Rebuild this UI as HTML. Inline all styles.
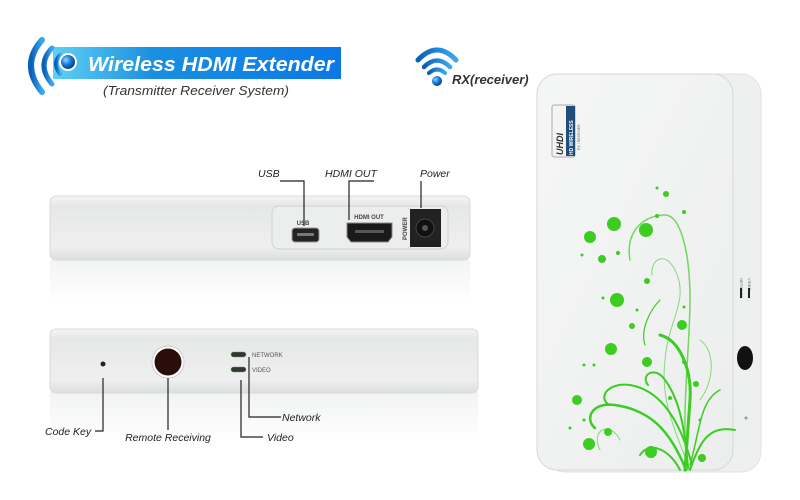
<!DOCTYPE html>
<html><head><meta charset="utf-8"><style>
html,body{margin:0;padding:0;background:#fff}
svg{display:block}
text{font-family:"Liberation Sans",sans-serif}
</style></head><body>
<svg width="800" height="500" viewBox="0 0 800 500" xmlns="http://www.w3.org/2000/svg">
<defs>
<linearGradient id="ban" x1="0" x2="1"><stop offset="0" stop-color="#5fd0f5"/><stop offset="0.35" stop-color="#1a8fe0"/><stop offset="1" stop-color="#0a78e8"/></linearGradient>
<linearGradient id="arc" x1="0" x2="1"><stop offset="0" stop-color="#0a5fb8"/><stop offset="1" stop-color="#3aa8f0"/></linearGradient>
<radialGradient id="ball" cx="0.35" cy="0.35" r="0.7"><stop offset="0" stop-color="#8fd8ff"/><stop offset="0.5" stop-color="#1a7ad8"/><stop offset="1" stop-color="#063e8a"/></radialGradient>
<linearGradient id="bodyg" x1="0" y1="0" x2="0" y2="1"><stop offset="0" stop-color="#f4f5f4"/><stop offset="0.15" stop-color="#e6e8e7"/><stop offset="0.8" stop-color="#eeefee"/><stop offset="1" stop-color="#dcdedd"/></linearGradient>
<linearGradient id="refl" x1="0" y1="0" x2="0" y2="1"><stop offset="0" stop-color="#e8eaea"/><stop offset="1" stop-color="#fff"/></linearGradient>
<linearGradient id="face" x1="0" y1="0" x2="1" y2="1"><stop offset="0" stop-color="#f5f6f6"/><stop offset="1" stop-color="#eceeed"/></linearGradient>
</defs>

<!-- header -->
<rect x="53" y="47" width="288" height="32" fill="url(#ban)"/>
<g fill="none" stroke="url(#arc)" stroke-linecap="round">
<path d="M42 40 Q20 65 42 92" stroke-width="6"/>
<path d="M52 48 Q36 65 52 84" stroke-width="5"/>
<path d="M60 55 Q52 63 60 74" stroke-width="4"/>
</g>
<circle cx="68" cy="62" r="9" fill="#fff"/>
<circle cx="68" cy="62" r="7" fill="url(#ball)"/>
<text x="88" y="71" font-size="20" font-weight="bold" font-style="italic" fill="#fff" textLength="246" lengthAdjust="spacingAndGlyphs">Wireless HDMI Extender</text>
<text x="103" y="95" font-size="13" font-style="italic" fill="#333" textLength="186" lengthAdjust="spacingAndGlyphs">(Transmitter Receiver System)</text>

<g fill="none" stroke="url(#arc)" stroke-linecap="round">
<path d="M418 60 Q437 40 456 60" stroke-width="5"/>
<path d="M424 67 Q437 54 450 67" stroke-width="4.5"/>
<path d="M429 73 Q437 66 445 73" stroke-width="4"/>
</g>
<circle cx="437" cy="81" r="5" fill="url(#ball)"/>
<text x="452" y="84" font-size="13" font-weight="bold" font-style="italic" fill="#333">RX(receiver)</text>

<!-- top device -->
<rect x="50" y="260" width="420" height="40" fill="url(#refl)" opacity="0.6"/>
<rect x="50" y="196" width="420" height="64" rx="6" fill="url(#bodyg)" stroke="#d8dad9"/>
<rect x="272" y="206" width="176" height="43" rx="7" fill="#eceeed" stroke="#d0d2d1"/>
<text x="303" y="225" font-size="6" font-weight="bold" fill="#444" text-anchor="middle">USB</text>
<rect x="292" y="228" width="27" height="14" rx="3" fill="#222" stroke="#999"/>
<rect x="297" y="233" width="17" height="3" fill="#777"/>
<text x="369" y="219" font-size="6" font-weight="bold" fill="#444" text-anchor="middle">HDMI OUT</text>
<path d="M347 223 H392 V237 L388 242 H351 L347 237 Z" fill="#1a1a1a" stroke="#888"/>
<rect x="355" y="230" width="29" height="3" fill="#555"/>
<text x="407" y="240" font-size="6" font-weight="bold" fill="#444" transform="rotate(-90 407 240)">POWER</text>
<rect x="410" y="209" width="31" height="38" fill="#222"/>
<circle cx="425" cy="228" r="9" fill="#111" stroke="#444"/>
<circle cx="425" cy="228" r="3" fill="#555"/>

<g stroke="#222" stroke-width="1.2" fill="none">
<path d="M280 181 H304 V226"/>
<path d="M374 181 H349 V220"/>
<path d="M421 181 V208"/>
</g>
<text x="258" y="177" font-size="10.5" font-style="italic" fill="#222">USB</text>
<text x="325" y="177" font-size="10.5" font-style="italic" fill="#222">HDMI OUT</text>
<text x="420" y="177" font-size="10.5" font-style="italic" fill="#222">Power</text>

<!-- bottom device -->
<rect x="50" y="392" width="428" height="50" fill="url(#refl)" opacity="0.6"/>
<rect x="50" y="329" width="428" height="64" rx="6" fill="url(#bodyg)" stroke="#d8dad9"/>
<circle cx="103" cy="364" r="2.5" fill="#222"/>
<circle cx="168" cy="362" r="16" fill="#fff" stroke="#ccc"/>
<circle cx="168" cy="362" r="13.5" fill="#2a0e0a"/>
<rect x="231" y="352" width="15" height="5" rx="2.5" fill="#2c3a2a" stroke="#888" stroke-width="0.5"/>
<rect x="231" y="367" width="15" height="5" rx="2.5" fill="#2c3a2a" stroke="#888" stroke-width="0.5"/>
<text x="252" y="357" font-size="6" fill="#555">NETWORK</text>
<text x="252" y="372" font-size="6" fill="#555">VIDEO</text>
<g stroke="#222" stroke-width="1.2" fill="none">
<path d="M103 378 V431 H95"/>
<path d="M168 378 V430"/>
<path d="M249 357 V417 H281"/>
<path d="M241 380 V437 H263"/>
</g>
<text x="45" y="435" font-size="10.5" font-style="italic" fill="#222">Code Key</text>
<text x="168" y="441" font-size="10.5" font-style="italic" fill="#222" text-anchor="middle">Remote Receiving</text>
<text x="282" y="421" font-size="10.5" font-style="italic" fill="#222">Network</text>
<text x="267" y="441" font-size="10.5" font-style="italic" fill="#222">Video</text>

<!-- right device -->
<rect x="545" y="74" width="216" height="398" rx="20" fill="#eef0ef" stroke="#e0e2e1"/>
<rect x="537" y="74" width="196" height="396" rx="20" fill="url(#face)" stroke="#d6d8d7"/>
<rect x="552" y="105" width="23" height="52" rx="2" fill="#f4f4f4" stroke="#aaa"/>
<rect x="566" y="106" width="9" height="50" fill="#1f4e7a"/>
<text x="563" y="155" font-size="9" font-weight="bold" font-style="italic" fill="#333" transform="rotate(-90 563 155)">UHDI</text>
<text x="573" y="155" font-size="5" font-weight="bold" fill="#fff" transform="rotate(-90 573 155)">HD WIRELESS</text>
<text x="580" y="150" font-size="3.5" fill="#666" transform="rotate(-90 580 150)">RX / RECEIVER</text>
<text x="740" y="278" font-size="4" fill="#666" transform="rotate(90 740 278)">NETWORK</text>
<text x="748" y="278" font-size="4" fill="#666" transform="rotate(90 748 278)">VIDEO</text>
<rect x="740" y="288" width="2" height="10" fill="#222"/>
<rect x="748" y="288" width="2" height="10" fill="#222"/>
<ellipse cx="745" cy="358" rx="8" ry="12" fill="#111"/>
<circle cx="746" cy="418" r="1.5" fill="#999"/>

<g fill="none" stroke="#3ccc22" stroke-linecap="round">
<path d="M688 470 C680 420 690 350 690 300 C690 250 680 215 665 215 C645 215 625 230 630 260" stroke-width="1.5" opacity="0.7"/>
<path d="M690 470 C675 430 660 400 665 360 C668 320 690 300 675 270 C665 250 650 260 652 275" stroke-width="1" opacity="0.6"/>
<path d="M686 470 C670 430 650 410 615 405 C590 402 585 420 595 428" stroke-width="2.5"/>
<path d="M692 465 C680 420 660 390 630 385 C605 382 598 400 610 405" stroke-width="2"/>
<path d="M688 468 C685 430 680 400 665 380 C655 365 640 375 648 385" stroke-width="2"/>
<path d="M690 470 C700 440 710 425 735 430" stroke-width="2"/>
<path d="M690 465 C700 430 700 400 720 390" stroke-width="1.5"/>
<path d="M680 470 C670 450 650 440 640 455" stroke-width="2"/>
<path d="M685 470 L690 400 C692 370 680 340 660 335" stroke-width="3"/>
<path d="M660 300 C650 310 640 330 645 345" stroke-width="1.2"/>
<path d="M700 400 C715 380 715 350 700 340" stroke-width="1" opacity="0.6"/>
<path d="M620 440 C610 420 590 430 600 450" stroke-width="1" opacity="0.6"/>
</g>
<g fill="#3ccc22">
<circle cx="614" cy="224" r="7"/><circle cx="590" cy="237" r="6"/><circle cx="646" cy="230" r="7"/>
<circle cx="666" cy="194" r="3"/><circle cx="602" cy="259" r="4"/><circle cx="617" cy="300" r="7"/>
<circle cx="682" cy="325" r="5"/><circle cx="611" cy="349" r="6"/><circle cx="647" cy="362" r="5"/>
<circle cx="577" cy="400" r="5"/><circle cx="589" cy="444" r="6"/><circle cx="651" cy="452" r="6"/>
<circle cx="702" cy="458" r="4"/><circle cx="608" cy="432" r="4"/><circle cx="647" cy="281" r="3"/>
<circle cx="632" cy="326" r="3"/><circle cx="696" cy="384" r="3"/><circle cx="657" cy="188" r="1.5"/>
<circle cx="684" cy="212" r="2"/><circle cx="657" cy="216" r="2"/><circle cx="582" cy="255" r="1.5"/>
<circle cx="618" cy="253" r="2"/><circle cx="603" cy="298" r="1.5"/><circle cx="637" cy="310" r="1.5"/>
<circle cx="684" cy="307" r="1.5"/><circle cx="584" cy="365" r="1.5"/><circle cx="594" cy="365" r="1.5"/>
<circle cx="684" cy="362" r="2"/><circle cx="670" cy="398" r="2"/><circle cx="584" cy="420" r="1.5"/>
<circle cx="700" cy="420" r="1.5"/><circle cx="570" cy="428" r="1.5"/>
</g>
</svg>
</body></html>
